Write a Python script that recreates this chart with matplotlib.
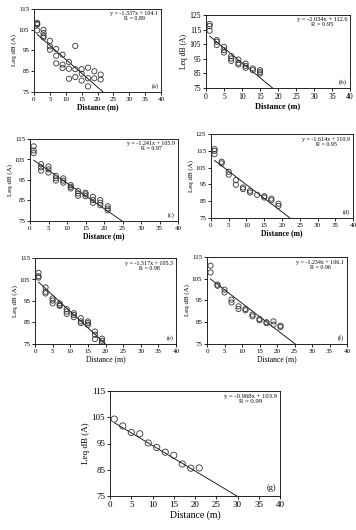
import matplotlib
matplotlib.use('Agg')
import matplotlib.pyplot as plt

plt.rcParams['font.family'] = ['Liberation Serif', 'DejaVu Serif']

dist_a = [1, 1, 1, 1, 3, 3, 3, 3, 5, 5, 5, 7, 7, 7, 9, 9, 9, 11, 11, 11,
          13, 13, 13, 15, 15, 15, 17, 17, 17, 19, 19, 21, 21]
leq_a = [108.3, 107.5, 107.8, 104.7, 105.0, 103.4, 102.1, 101.3, 99.7, 97.0, 95.4,
         95.7, 92.5, 88.8, 93.0, 88.2, 86.6, 89.5, 86.2, 81.4,
         97.2, 86.0, 82.2, 86.0, 83.8, 80.5, 86.7, 81.6, 77.7, 85.0, 81.6, 83.4, 81.0]

dist_b = [1, 1, 1, 3, 3, 3, 5, 5, 5, 7, 7, 7, 9, 9, 9, 11, 11, 11, 13, 13, 15, 15, 15]
leq_b = [118.8, 117.4, 114.2, 107.8, 106.7, 104.4, 103.2, 100.9, 99.3, 96.8, 95.2, 93.6,
         94.5, 92.2, 91.1, 91.7, 90.1, 88.8, 88.4, 87.2, 87.2, 86.0, 84.9]

dist_c = [1, 1, 1, 3, 3, 3, 5, 5, 5, 7, 7, 7, 9, 9, 9, 11, 11, 11,
          13, 13, 13, 15, 15, 15, 17, 17, 17, 19, 19, 19, 21, 21, 21]
leq_c = [111.4, 109.4, 108.1, 102.7, 101.2, 99.6, 101.6, 100.2, 98.6, 97.0, 95.8, 94.7,
         95.8, 94.7, 93.7, 92.5, 91.7, 90.9, 89.6, 88.4, 87.3, 88.8, 88.0, 87.1,
         86.8, 85.2, 83.9, 85.2, 83.9, 82.7, 82.2, 81.1, 80.2]

dist_d = [1, 1, 1, 3, 3, 5, 5, 7, 7, 9, 9, 11, 11, 13, 15, 15, 17, 17, 19, 19]
leq_d = [116.0, 115.0, 113.0, 108.5, 107.5, 102.5, 100.8, 97.5, 94.8, 93.2, 92.2,
         91.2, 90.2, 88.8, 88.0, 87.2, 86.5, 85.5, 83.5, 82.2]

dist_e = [1, 1, 1, 3, 3, 3, 5, 5, 5, 7, 7, 7, 9, 9, 9, 11, 11, 11,
          13, 13, 13, 15, 15, 15, 17, 17, 17, 19, 19, 19]
leq_e = [108.1, 106.5, 105.9, 101.3, 99.3, 98.5, 96.2, 95.2, 93.9, 93.9, 93.2, 92.7,
         91.2, 90.1, 89.0, 89.3, 88.5, 87.5, 87.0, 85.5, 84.7, 85.5, 84.7, 83.9,
         80.8, 79.3, 77.3, 77.5, 76.5, 75.5]

dist_f = [1, 1, 3, 3, 5, 5, 7, 7, 9, 9, 11, 11, 13, 13, 15, 15, 17, 17, 19, 19, 21, 21]
leq_f = [111.0, 107.9, 102.3, 101.8, 100.0, 98.7, 95.4, 94.1, 92.3, 91.1, 91.1, 90.5,
         88.5, 87.7, 86.5, 85.9, 85.0, 84.6, 85.4, 83.9, 83.4, 82.8]

dist_g = [1, 3, 5, 7, 9, 11, 13, 15, 17, 19, 21]
leq_g = [104.3, 101.7, 99.2, 98.7, 95.2, 93.5, 91.7, 90.5, 87.2, 85.6, 85.7]

slopes = [-1.337, -2.034, -1.241, -1.614, -1.517, -1.234, -0.968]
intercepts = [104.1, 112.6, 105.9, 110.9, 105.3, 106.1, 103.9]
r_values = [0.89, 0.95, 0.97, 0.95, 0.98, 0.96, 0.99]
tags = ['(a)', '(b)', '(c)', '(d)', '(e)', '(f)', '(g)']
y_tops = [115, 125, 115, 125, 115, 115, 115]

dists = [dist_a, dist_b, dist_c, dist_d, dist_e, dist_f, dist_g]
leqs = [leq_a, leq_b, leq_c, leq_d, leq_e, leq_f, leq_g]

# axes boxes in pixels: x at 0, x at 40, y top, y bottom
W, H = 356, 530
boxes = [(34, 161, 9, 92), (206, 350, 15, 88), (30, 178, 139, 221), (211, 353, 134, 218),
         (35, 176, 258, 344), (207, 347, 257, 344), (110, 280, 391, 496)]
fsizes = [5, 5.5, 5, 5, 5, 5, 6.5]
eq_sizes = [4.3, 4.6, 4.3, 4.3, 4.3, 4.3, 4.8]
bold_x = [True, True, True, True, False, False, False]

fig = plt.figure(figsize=(W / 100, H / 100), dpi=100)
fig.patch.set_facecolor('white')

for i in range(7):
    x0, x1, yt, yb = boxes[i]
    ax = fig.add_axes([x0 / W, 1 - yb / H, (x1 - x0) / W, (yb - yt) / H])
    fs = fsizes[i]
    ax.scatter(dists[i], leqs[i], s=20 if i == 6 else 14, facecolors='none',
               edgecolors='#333333', linewidths=0.6, zorder=3)
    xe = (75 - intercepts[i]) / slopes[i]
    ax.plot([1, xe], [slopes[i] * 1 + intercepts[i], 75], color='black', lw=0.6)
    ax.set_xlim(0, 40)
    ax.set_ylim(75, y_tops[i])
    ax.set_xticks(range(0, 41, 5))
    ax.set_yticks(range(75, y_tops[i] + 1, 10))
    ax.tick_params(labelsize=fs, length=2, width=0.6, pad=1.5)
    for sp in ax.spines.values():
        sp.set_linewidth(0.6)
    ax.set_xlabel('Distance (m)', fontsize=fs + 0.5,
                  fontweight='bold' if bold_x[i] else 'normal', labelpad=1)
    ax.set_ylabel('Leq dB (A)', fontsize=fs, labelpad=1)
    ax.text(0.98, 0.97, 'y = %.3fx + %.1f\nR = %.2f' % (slopes[i], intercepts[i], r_values[i]),
            transform=ax.transAxes, ha='right', va='top', multialignment='center',
            fontsize=eq_sizes[i], linespacing=1.0)
    ax.text(0.98, 0.04, tags[i], transform=ax.transAxes, ha='right', va='bottom',
            fontsize=fs - 0.5)

fig.savefig('out.png', dpi=100, facecolor='white')
